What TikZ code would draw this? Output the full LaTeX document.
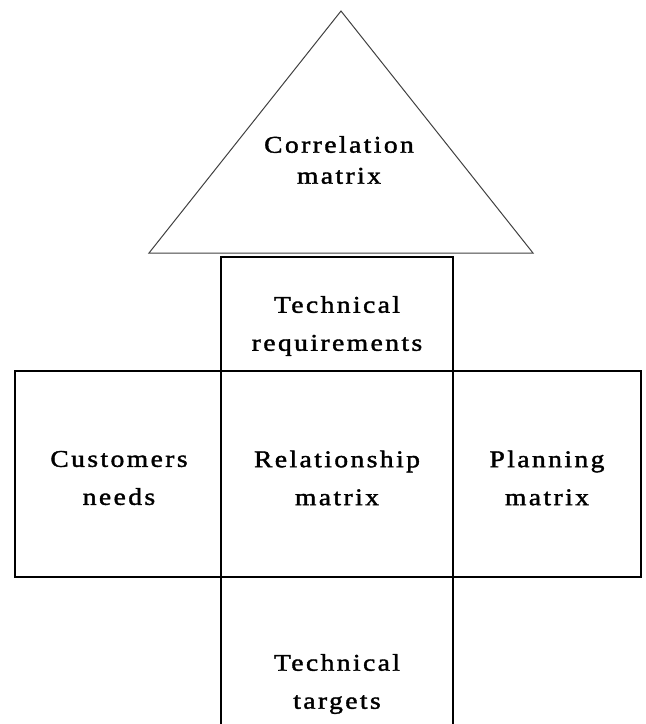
\documentclass[tikz,border=0pt]{standalone}
\usepackage{fontspec}
\setmainfont{Liberation Serif}[LetterSpace=10,FakeStretch=1.15,FakeBold=1.6]
\usetikzlibrary{shapes.geometric}
\begin{document}
\begin{tikzpicture}[x=1pt,y=-1pt,
  cell/.style={draw=black,line width=1.3pt,inner sep=0pt,outer sep=0pt},
  label/.style={align=center,font=\fontsize{24}{38}\selectfont}]
\useasboundingbox (0,0) rectangle (646,724);
% roof
\coordinate (apex) at (341,11);
\coordinate (roofL) at (149,253);
\coordinate (roofR) at (533,253);
\draw[line width=1pt,black!75,line join=miter] (roofL) -- (apex) -- (roofR) -- cycle;
\node[label,font=\fontsize{24}{31}\selectfont] (corr) at (339,160) {Correlation\\matrix};
% boxes
\node[cell,minimum width=232pt,minimum height=114pt] (treq) at (337,314) {};
\node[cell,minimum width=206pt,minimum height=206pt] (cust) at (118,474) {};
\node[cell,minimum width=232pt,minimum height=206pt] (rel) at (337,474) {};
\node[cell,minimum width=188pt,minimum height=206pt] (plan) at (547,474) {};
\coordinate (tgtL) at (221,724);
\coordinate (tgtR) at (453,724);
\draw[line width=1.3pt] (rel.south west) -- (tgtL);
\draw[line width=1.3pt] (rel.south east) -- (tgtR);
% texts
\node[label] at (337,326) {Technical\\requirements};
\node[label] at (119,478) {Customers\\needs};
\node[label] at (337,478) {Relationship\\matrix};
\node[label] at (547,478) {Planning\\matrix};
\node[label] (tgt) at (337,684) {Technical\\targets};
\end{tikzpicture}
\end{document}
